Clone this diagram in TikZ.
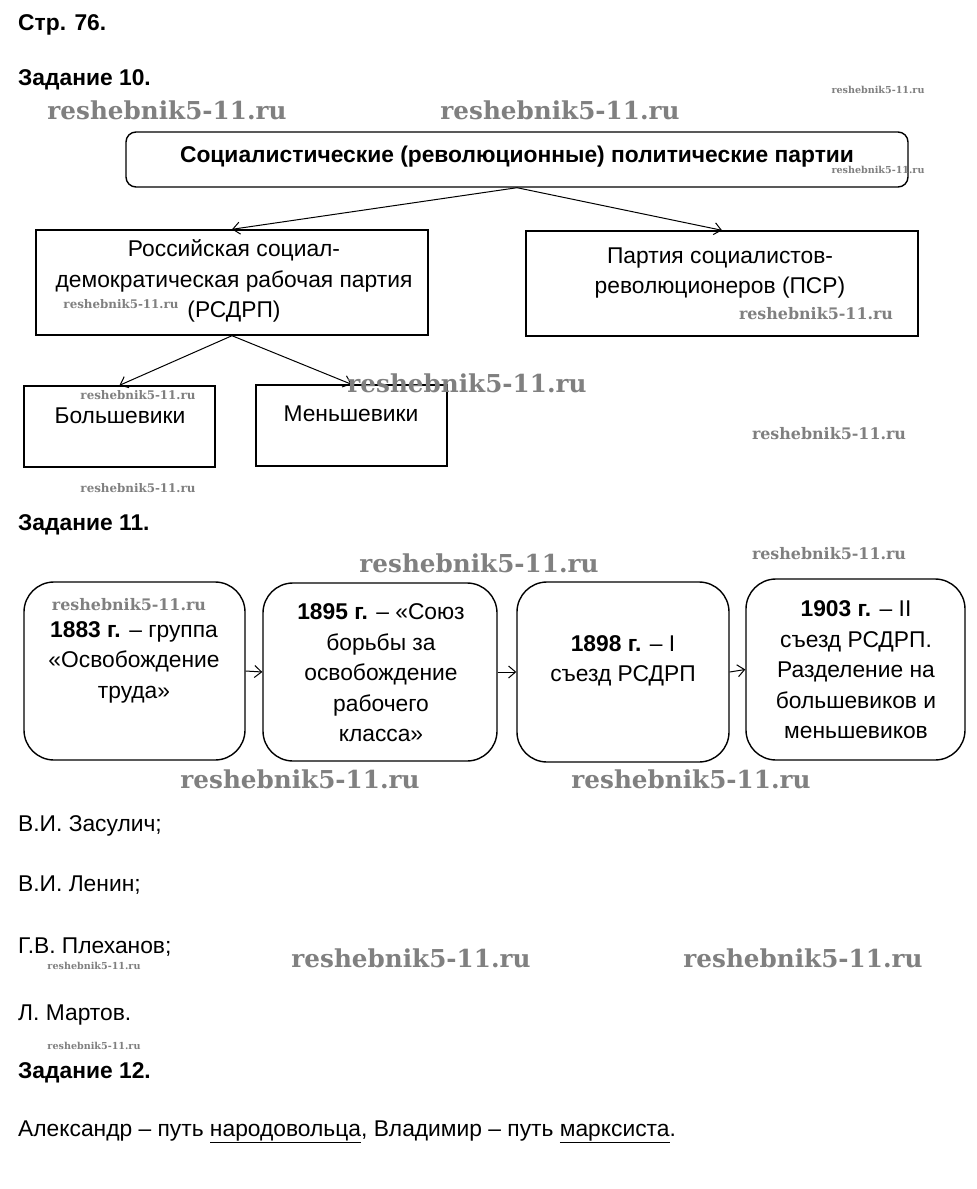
\documentclass[tikz,border=0pt]{standalone}
\usepackage{fontspec}
\usepackage{graphicx}
\setmainfont{Liberation Sans}
\newfontfamily\wmfont{DejaVu Serif}
\usetikzlibrary{arrows.meta}
\newcommand{\mfs}{\fontsize{22.8}{30.5}\selectfont}
\begin{document}
\begin{tikzpicture}[x=1pt,y=-1pt,
  txt/.style={inner sep=0pt,font=\mfs},
  ltxt/.style={txt,anchor=base west},
  ctxt/.style={txt,align=center,anchor=center},
  sqbox/.style={draw,line width=1.4pt,inner sep=0pt},
  rbox/.style={draw,line width=1.4pt,inner sep=0pt,rounded corners=30pt},
  arr/.style={line width=1pt,-{Straight Barb[length=7pt,width=12pt,line width=1pt]}},
  wm/.style={inner sep=0pt,text=black!50,anchor=center}
]
\useasboundingbox (0,0) rectangle (977,1189);
\fill[white] (0,0) rectangle (977,1189);

% headings
\node[ltxt,font=\mfs\bfseries] (h0) at (18,30) {Стр. 76.};
\node[ltxt,font=\mfs\bfseries] (h10) at (18,85) {Задание 10.};

% Task 10 boxes
\node[sqbox,rounded corners=10pt,minimum width=782pt,minimum height=55pt] (top) at (517,159.5) {};
\node[ctxt,font=\mfs\bfseries] (toptxt) at (517,157) {Социалистические (революционные) политические партии};

\node[sqbox,minimum width=392pt,minimum height=105pt] (rsdrp) at (232,282.5) {};
\node[ctxt] (rsdrptxt) at (234,281) {Российская социал-\\демократическая рабочая партия\\(РСДРП)};

\node[sqbox,minimum width=392pt,minimum height=105pt] (psr) at (722,283.5) {};
\node[ctxt] (psrtxt) at (720,273) {Партия социалистов-\\революционеров (ПСР)};

\node[sqbox,minimum width=191pt,minimum height=81pt] (bol) at (119.5,426.5) {};
\node[ctxt] (boltxt) at (120,416) {Большевики};

\node[sqbox,minimum width=191pt,minimum height=81pt] (men) at (351.5,425.5) {};
\node[ctxt] (mentxt) at (351,414) {Меньшевики};

\draw[arr] (top.south) -- (rsdrp.north);
\draw[arr] (top.south) -- (psr.north);
\draw[arr] (rsdrp.south) -- (bol.north);
\draw[arr] (rsdrp.south) -- (men.north);

% Task 11
\node[ltxt,font=\mfs\bfseries] (h11) at (18,530) {Задание 11.};

\node[rbox,minimum width=221pt,minimum height=178pt] (b1) at (134.5,671) {};
\node[ctxt] (b1txt) at (134,662) {\textbf{1883 г.} – группа\\«Освобождение\\труда»};

\node[rbox,minimum width=234pt,minimum height=178pt] (b2) at (380,672) {};
\node[ctxt] (b2txt) at (381,673) {\textbf{1895 г.} – «Союз\\борьбы за\\освобождение\\рабочего\\класса»};

\node[rbox,minimum width=212pt,minimum height=180pt] (b3) at (623,672) {};
\node[ctxt] (b3txt) at (623,661) {\textbf{1898 г.} – I\\съезд РСДРП};

\node[rbox,minimum width=219pt,minimum height=181pt] (b4) at (855.5,669.5) {};
\node[ctxt] (b4txt) at (856,670) {\textbf{1903 г.} – II\\съезд РСДРП.\\Разделение на\\большевиков и\\меньшевиков};

\draw[arr] (b1.east) -- (b2.west);
\draw[arr] (b2.east) -- (b3.west);
\draw[arr] (b3.east) -- (b4.west);

% names
\node[ltxt] (n1) at (18,831) {В.И. Засулич;};
\node[ltxt] (n2) at (18,891) {В.И. Ленин;};
\node[ltxt] (n3) at (18,953) {Г.В. Плеханов;};
\node[ltxt] (n4) at (18,1020) {Л. Мартов.};

% Task 12
\node[ltxt,font=\mfs\bfseries] (h12) at (18,1078) {Задание 12.};
\node[ltxt] (ans) at (18,1136) {Александр – путь \underline{народовольца}, Владимир – путь \underline{марксиста}.};

% watermarks
\foreach \x/\y [count=\i] in {167/110,560/110,467/383,479/563,300/779,691/779,411/958,803/958}
  \node[wm] (wl\i) at (\x,\y) {\resizebox{239pt}{!}{\wmfont\bfseries reshebnik5-11.ru}};
\foreach \x/\y [count=\i] in {878/90,878/170,94/966,94/1046}
  \node[wm] (ws\i) at (\x,\y) {\resizebox{93pt}{!}{\wmfont\bfseries reshebnik5-11.ru}};
\foreach \x/\y [count=\i] in {121/304,138/395,138/488}
  \node[wm] (wm\i) at (\x,\y) {\resizebox{115pt}{!}{\wmfont\bfseries reshebnik5-11.ru}};
\foreach \x/\y [count=\i] in {816/314,829/434,829/554,129/605}
  \node[wm] (wq\i) at (\x,\y) {\resizebox{154pt}{!}{\wmfont\bfseries reshebnik5-11.ru}};
\end{tikzpicture}
\end{document}
